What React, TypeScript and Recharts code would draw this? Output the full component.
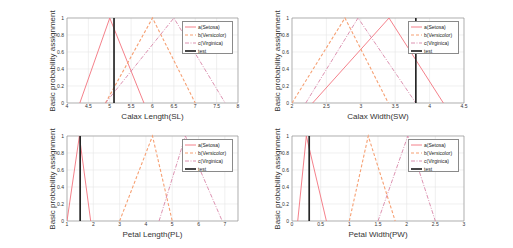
import {
  LineChart,
  Line,
  XAxis,
  YAxis,
  CartesianGrid,
  Legend,
  ReferenceArea,
} from "recharts";

const FONT = '"Liberation Sans", Arial, sans-serif';

// every membership function is a triangle: 0 -> 1 -> 0
const TRI_Y = [0, 1, 0];
const TEST_Y = [0, 1];
const Y_TICKS = [0, 0.2, 0.4, 0.6, 0.8, 1];

// Calax Length (SL)
const SL_TICKS = [4, 4.5, 5, 5.5, 6, 6.5, 7, 7.5, 8];
const SL_SETOSA = [4.3, 5.0, 5.8];
const SL_VERSICOLOR = [4.9, 6.0, 7.0];
const SL_VIRGINICA = [4.9, 6.5, 7.7];
const SL_TEST = 5.1;

// Calax Width (SW)
const SW_TICKS = [2, 2.5, 3, 3.5, 4, 4.5];
const SW_SETOSA = [2.3, 3.41, 4.2];
const SW_VERSICOLOR = [2.0, 2.77, 3.4];
const SW_VIRGINICA = [2.2, 2.96, 3.8];
const SW_TEST = 3.8;

// Petal Length (PL)
const PL_TICKS = [1, 2, 3, 4, 5, 6, 7];
const PL_SETOSA = [1.0, 1.47, 1.9];
const PL_VERSICOLOR = [3.0, 4.25, 5.0];
const PL_VIRGINICA = [4.5, 5.5, 6.9];
const PL_TEST = 1.5;

// Petal Width (PW)
const PW_TICKS = [0, 0.5, 1, 1.5, 2, 2.5, 3];
const PW_SETOSA = [0.1, 0.25, 0.6];
const PW_VERSICOLOR = [1.0, 1.33, 1.8];
const PW_VIRGINICA = [1.5, 2.02, 2.5];
const PW_TEST = 0.3;

const SERIES = [
  { key: "a", name: "a(Setosa)", color: "#f3737e", dash: undefined, width: 0.9 },
  { key: "b", name: "b(Versicolor)", color: "#f6a073", dash: "3 2", width: 1.1 },
  { key: "c", name: "c(Virginica)", color: "#d886a8", dash: "4 1.5 1 1.5", width: 0.9 },
  { key: "test", name: "test", color: "#262626", dash: undefined, width: 1.7 },
];

const toPoints = (xs: number[], ys: number[]) => xs.map((x, i) => ({ x, y: ys[i] }));

function LegendBox() {
  return (
    <div
      style={{
        width: 51,
        height: 33,
        boxSizing: "border-box",
        border: "0.6px solid #8a8a8a",
        background: "#fff",
        fontFamily: FONT,
        fontSize: 5,
        color: "#222",
        paddingTop: 1,
      }}
    >
      {SERIES.map((s) => (
        <div key={s.key} style={{ display: "flex", alignItems: "center", height: 8 }}>
          <svg width={15} height={4} style={{ flexShrink: 0 }}>
            <line
              x1={2}
              x2={13}
              y1={2}
              y2={2}
              stroke={s.color}
              strokeWidth={s.width}
              strokeDasharray={s.dash}
            />
          </svg>
          <span>{s.name}</span>
        </div>
      ))}
    </div>
  );
}

interface PanelProps {
  left: number;
  top: number;
  width: number;
  axisWidth: number;
  marginRight: number;
  domain: [number, number];
  ticks: number[];
  label: string;
  setosa: number[];
  versicolor: number[];
  virginica: number[];
  test: number;
}

function Panel(p: PanelProps) {
  const height = 124;
  const plotTop = 18;
  const plotRight = p.width - p.marginRight;
  const lines: Record<string, { x: number; y: number }[]> = {
    a: toPoints(p.setosa, TRI_Y),
    b: toPoints(p.versicolor, TRI_Y),
    c: toPoints(p.virginica, TRI_Y),
    test: toPoints([p.test, p.test], TEST_Y),
  };
  const tick = { fontSize: 5, fill: "#333", fontFamily: FONT };

  return (
    <div style={{ position: "absolute", left: p.left, top: p.top }}>
      <LineChart
        width={p.width}
        height={height}
        margin={{ top: plotTop, right: p.marginRight, bottom: 0, left: 0 }}
      >
        <CartesianGrid stroke="#e6e6e6" strokeWidth={0.6} />
        <XAxis
          type="number"
          dataKey="x"
          domain={p.domain}
          ticks={p.ticks}
          allowDataOverflow
          height={21}
          tick={tick}
          tickLine={false}
          tickSize={0}
          axisLine={false}
          tickMargin={1.5}
          interval={0}
          label={{
            content: (lp: any) => {
              const vb = lp.viewBox;
              return (
                <text
                  x={vb.x + vb.width / 2}
                  y={vb.y + 13.5}
                  textAnchor="middle"
                  dominantBaseline="central"
                  fontSize={8}
                  fill="#333"
                  fontFamily={FONT}
                >
                  {p.label}
                </text>
              );
            },
          }}
        />
        <YAxis
          type="number"
          dataKey="y"
          domain={[0, 1]}
          ticks={Y_TICKS}
          width={p.axisWidth}
          tick={tick}
          tickLine={false}
          tickSize={0}
          axisLine={false}
          tickMargin={3}
          interval={0}
          label={{
            content: (lp: any) => {
              const vb = lp.viewBox;
              const cx = vb.x + vb.width - 15;
              const cy = vb.y + vb.height / 2 + 0.5;
              return (
                <text
                  x={cx}
                  y={cy}
                  transform={`rotate(-90, ${cx}, ${cy})`}
                  textAnchor="middle"
                  dominantBaseline="central"
                  fontSize={8}
                  fill="#333"
                  fontFamily={FONT}
                >
                  Basic probability assignment
                </text>
              );
            },
          }}
        />
        <ReferenceArea
          x1={p.domain[0]}
          x2={p.domain[1]}
          y1={0}
          y2={1}
          fill="none"
          fillOpacity={0}
          stroke="#8a8a8a"
          strokeWidth={0.6}
        />
        {SERIES.map((s) => (
          <Line
            key={s.key}
            data={lines[s.key]}
            dataKey="y"
            name={s.name}
            type="linear"
            stroke={s.color}
            strokeWidth={s.width}
            strokeDasharray={s.dash}
            dot={false}
            activeDot={false}
            isAnimationActive={false}
          />
        ))}
        <Legend
          layout="vertical"
          align="center"
          verticalAlign="middle"
          content={() => <LegendBox />}
          wrapperStyle={{ top: plotTop + 3, left: plotRight - 56, width: 51 }}
        />
      </LineChart>
    </div>
  );
}

export default function App() {
  return (
    <div
      style={{
        position: "absolute",
        left: 0,
        top: 0,
        width: 513,
        height: 248,
        background: "#fff",
        overflow: "hidden",
      }}
    >
      <Panel
        left={0}
        top={0}
        width={256}
        axisWidth={67}
        marginRight={18}
        domain={[4, 8]}
        ticks={SL_TICKS}
        label="Calax Length(SL)"
        setosa={SL_SETOSA}
        versicolor={SL_VERSICOLOR}
        virginica={SL_VIRGINICA}
        test={SL_TEST}
      />
      <Panel
        left={256}
        top={0}
        width={257}
        axisWidth={36}
        marginRight={49}
        domain={[2, 4.5]}
        ticks={SW_TICKS}
        label="Calax Width(SW)"
        setosa={SW_SETOSA}
        versicolor={SW_VERSICOLOR}
        virginica={SW_VIRGINICA}
        test={SW_TEST}
      />
      <Panel
        left={0}
        top={118}
        width={256}
        axisWidth={67}
        marginRight={18}
        domain={[1, 7.5]}
        ticks={PL_TICKS}
        label="Petal Length(PL)"
        setosa={PL_SETOSA}
        versicolor={PL_VERSICOLOR}
        virginica={PL_VIRGINICA}
        test={PL_TEST}
      />
      <Panel
        left={256}
        top={118}
        width={257}
        axisWidth={36}
        marginRight={49}
        domain={[0, 3]}
        ticks={PW_TICKS}
        label="Petal Width(PW)"
        setosa={PW_SETOSA}
        versicolor={PW_VERSICOLOR}
        virginica={PW_VIRGINICA}
        test={PW_TEST}
      />
    </div>
  );
}
